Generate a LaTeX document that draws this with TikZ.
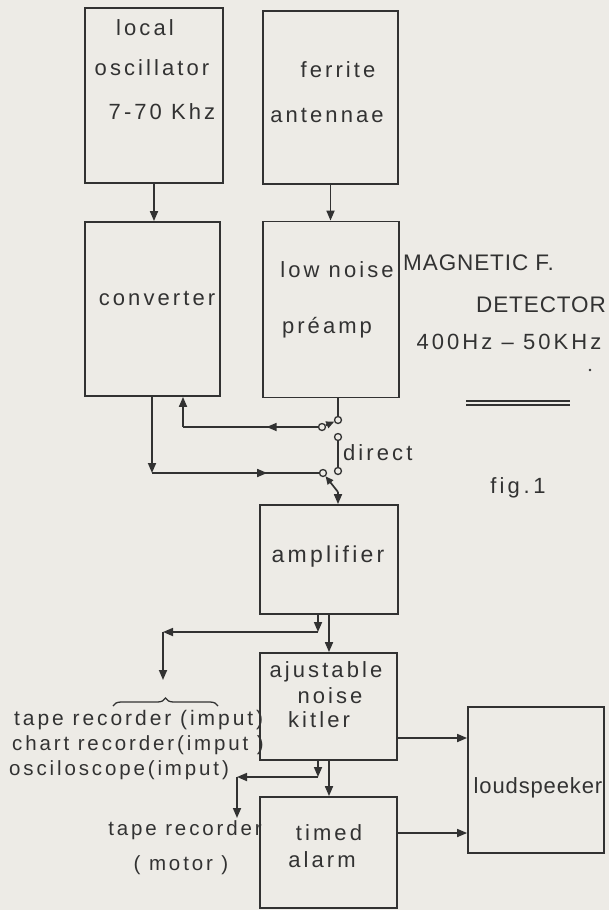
\documentclass[tikz,border=0pt]{standalone}
\usepackage{fontspec}
\setmainfont{Liberation Sans}
\newfontfamily\lt[LetterSpace=14]{Liberation Sans}
\newfontfamily\ltc[LetterSpace=4]{Liberation Sans}
\usetikzlibrary{arrows.meta,decorations.pathreplacing,decorations.markings}
\definecolor{paper}{RGB}{237,235,230}
\definecolor{ink}{RGB}{50,50,50}
\tikzset{
  box/.style={draw=ink, line width=1.8pt, rectangle, inner sep=0pt},
  lbl/.style={text=ink, inner sep=0pt, font=\lt\fontsize{22}{24}\selectfont},
  lblc/.style={text=ink, inner sep=0pt, font=\ltc\fontsize{22.5}{24}\selectfont},
  note/.style={text=ink, inner sep=0pt, font=\lt\fontsize{20.5}{25}\selectfont},
  wire/.style={draw=ink, line width=1.7pt},
  tip/.style={-{Triangle[length=10pt,width=8pt]}},
  arr/.style={wire, tip},
  contact/.style={circle, draw=ink, fill=paper, line width=1.3pt, minimum size=7pt, inner sep=0pt},
  midarr/.style={postaction={decorate}, decoration={markings, mark=at position #1 with {\arrow{Triangle[length=10pt,width=8pt]}}}},
}
\begin{document}
\begin{tikzpicture}[x=1pt,y=-1pt]
\fill[paper] (0,0) rectangle (609,910);
\useasboundingbox (0,0) rectangle (609,910);

% boxes
\node[box, minimum width=138pt, minimum height=175pt] (lo) at (154,95.5) {};
\node[box, minimum width=135pt, minimum height=173pt] (fa) at (330.5,97.5) {};
\node[box, minimum width=135pt, minimum height=174pt] (cv) at (152.5,309) {};
\node[box, minimum width=136pt, minimum height=176pt] (pa) at (331,309.5) {};
\node[box, minimum width=138pt, minimum height=109pt] (amp) at (329,559.5) {};
\node[box, minimum width=137pt, minimum height=107pt] (nk) at (328.5,706.5) {};
\node[box, minimum width=137pt, minimum height=111pt] (ta) at (328.5,852.5) {};
\node[box, minimum width=136pt, minimum height=146pt] (ls) at (536,780) {};

% box texts
\node[lbl] (t1) at (145,28) {local};
\node[lbl] (t2) at (152,68) {oscillator};
\node[lbl] (t3) at (162,112) {7-70 Khz};
\node[lbl] (t4) at (338,70) {ferrite};
\node[lbl] (t5) at (327,115) {antennae};
\node[lbl] (t6) at (157,298) {converter};
\node[lbl] (t7) at (337,270) {low noise};
\node[lbl] (t8) at (327,328) {préamp};
\node[lbl, font=\lt\fontsize{23}{24}\selectfont] (t9) at (328,557) {amplifier};
\node[lbl] (t10) at (326,672) {ajustable};
\node[lbl] (t11) at (330,696) {noise};
\node[lbl] (t12) at (319,720) {kitler};
\node[lbl] (t13) at (329,833) {timed};
\node[lbl] (t14) at (322,860) {alarm};
\node[lblc, font=\ltc\fontsize{22}{24}\selectfont] (t15) at (538,788) {loudspeeker};

% side texts
\node[lblc, anchor=west] (m1) at (403,263) {MAGNETIC F.};
\node[lblc, anchor=east] (m2) at (606,305) {DETECTOR};
\node[lbl, font=\lt\fontsize{22}{24}\selectfont] (m3) at (509,342) {400\hspace{3pt}Hz – 50\hspace{3pt}KHz};
\fill[ink] (590,370) circle (1.3pt);
\draw[ink, line width=1.1pt] (466,401) -- (570,401);
\draw[ink, line width=1.1pt] (466,405) -- (570,405);
\node[lbl, anchor=west] (dl) at (343,453) {direct};
\node[lbl] (fig) at (518,488) {fig\,.\,1};

\node[note, font=\lt\fontsize{21}{25}\selectfont, anchor=west] (n1) at (14,720) {tape recorder (imput)};
\node[note, anchor=west] (n2) at (12,745) {chart recorder(imput )};
\node[note, anchor=west] (n3) at (9,770) {osciloscope(imput)};
\node[note] (n4) at (185,830) {tape recorder};
\node[note] (n5) at (181,865) {( motor )};

% top connectors
\draw[arr] (lo.south) -- (lo.south |- cv.north);
\draw[arr] (fa.south) -- (fa.south |- pa.north);

% switch contacts
\node[contact] (s1a) at (338,420) {};
\node[contact] (s1b) at (322,427) {};
\node[contact] (d1) at (338,437) {};
\node[contact] (d2) at (338,471) {};
\node[contact] (s2a) at (323,473) {};
\coordinate (s2b) at (338,492);
\coordinate (fbc) at (183,427);
\coordinate (lc) at (152,473);

\draw[wire] (pa.south -| s1a) -- (s1a);
\draw[wire, -{Triangle[length=8pt,width=7pt]}] (s1b) -- (s1a);
\draw[wire, midarr=0.38] (s1b.west) -- (fbc);
\draw[arr] (fbc) -- (fbc |- cv.south);
\draw[wire] (d1) -- (d2);
\draw[arr] (cv.south -| lc) -- (lc);
\draw[wire, midarr=0.69] (lc) -- (s2a.west);
\draw[wire, {Triangle[length=8pt,width=7pt]}-] (s2a) -- (s2b);
\draw[arr] (s2b) -- (s2b |- amp.north);

% amplifier outputs
\coordinate (b1) at (318,632);
\coordinate (b2) at (163,632);
\coordinate (b3) at (163,680);
\draw[arr] (amp.south -| b1) -- (b1);
\draw[arr] (b1) -- (b2);
\draw[arr] (b2) -- (b3);
\draw[arr] (amp.south -| 329,0) -- (nk.north -| 329,0);
\draw[ink, line width=1.3pt, decorate, decoration={brace, amplitude=8pt}] (113,706) -- (218,706);

% noise killer outputs
\coordinate (c1) at (318,777);
\coordinate (c2) at (237,777);
\coordinate (c3) at (237,818);
\draw[arr] (nk.south -| c1) -- (c1);
\draw[arr] (c1) -- (c2);
\draw[arr] (c2) -- (c3);
\draw[arr] (nk.south -| 329,0) -- (ta.north -| 329,0);
\draw[arr] ([yshift=-31.5pt]nk.east) -- ([yshift=-31.5pt]nk.east -| ls.west);
\draw[arr] ([yshift=19.5pt]ta.east) -- ([yshift=19.5pt]ta.east -| ls.west);
\end{tikzpicture}
\end{document}
